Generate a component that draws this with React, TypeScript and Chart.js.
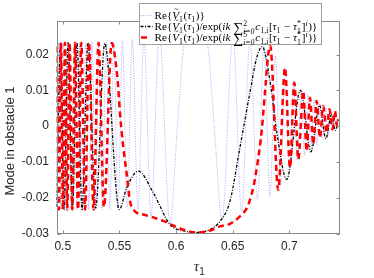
import React, { useEffect, useRef } from 'react';
import { Chart, registerables } from 'chart.js';

Chart.register(...registerables);

// Axis limits and tick values
const X_MIN = 0.4945;
const X_MAX = 0.7434;
const Y_MIN = -0.03;
const Y_MAX = 0.0295;
const xTicks = [0.5, 0.55, 0.6, 0.65, 0.7];
const yTicks = [-0.03, -0.02, -0.01, 0, 0.01, 0.02];

const xLabel = 'τ';
const yLabel = 'Mode in obstacle 1';

// Series 1: Re{V1(tau1)} (light blue dotted)
const blueX = [
  0.4945, 0.4962, 0.4984, 0.5006, 0.5029, 0.5052, 0.5077, 0.5101, 0.5125, 0.515,
  0.5176, 0.5203, 0.523, 0.5259, 0.5288, 0.5318, 0.5349, 0.5382, 0.5416, 0.5451,
  0.5488, 0.5528, 0.5569, 0.5614, 0.5664, 0.5717, 0.5779, 0.5852, 0.5947, 0.6012,
  0.6072, 0.6176, 0.6277, 0.6337, 0.6406, 0.6503, 0.6578, 0.6653, 0.6719, 0.6776,
  0.6829, 0.6878, 0.6922, 0.6962, 0.7001, 0.7037, 0.7072, 0.7103, 0.7134, 0.7164,
  0.7191, 0.7217, 0.7244, 0.727, 0.7295, 0.7319, 0.7341, 0.7363, 0.7385, 0.7405,
  0.7425, 0.7434,
];
const blueY = [
  -0.022, 0.0233, -0.0233, 0.0234, -0.0233, 0.0234, -0.0233, 0.0234, -0.0233, 0.0234,
  -0.0233, 0.0234, -0.0233, 0.0234, -0.0233, 0.0234, -0.0233, 0.0235, -0.0232, 0.0236,
  -0.023, 0.0238, -0.0226, 0.0242, -0.0233, 0.0246, -0.0252, 0.026, -0.0272, 0.0,
  0.0228, 0.0285, 0.023, 0.0, -0.0262, 0.0255, -0.0239, 0.0242, -0.0205, 0.0225,
  -0.0196, 0.0196, -0.0165, 0.0166, -0.0125, 0.0127, -0.0096, 0.0103, -0.0082, 0.0088,
  -0.0066, 0.0075, -0.0052, 0.0063, -0.0038, 0.0054, -0.0025, 0.0047, -0.0013, 0.0042,
  -0.0003, 0.0015,
];

// Series 2: quadratic phase removed (black dash-dot)
const blackX = [
  0.4945, 0.4981, 0.5011, 0.5047, 0.5086, 0.5126, 0.517, 0.5223, 0.5291, 0.5371,
  0.5499, 0.5565, 0.5667, 0.5799, 0.5947, 0.6061, 0.6182, 0.63, 0.6388, 0.6476,
  0.6564, 0.6653, 0.6712, 0.6761, 0.6829, 0.6888, 0.6977, 0.7098, 0.7191, 0.7266,
  0.7323, 0.7372, 0.7407, 0.7434,
];
const blackY = [
  -0.0226, 0.0233, -0.0233, 0.0233, -0.0233, 0.0233, -0.0233, 0.0233, -0.0229, 0.0231,
  -0.0233, -0.0172, -0.0126, -0.0186, -0.0275, -0.0292, -0.0297, -0.0289, -0.0266, -0.021,
  -0.006, 0.0095, 0.0191, 0.0222, 0.0126, -0.0014, -0.0149, 0.01, -0.0072, 0.0058,
  -0.0035, 0.0032, -0.0012, 0.0018,
];

// Series 3: fifth-order phase removed (red dashed)
const redX = [
  0.4945, 0.4967, 0.4984, 0.5002, 0.502, 0.504, 0.5061, 0.5084, 0.5109, 0.5135,
  0.5164, 0.5197, 0.5232, 0.5272, 0.5316, 0.5364, 0.5432, 0.5484, 0.5506, 0.5535,
  0.5565, 0.5594, 0.5638, 0.5711, 0.5799, 0.5918, 0.6035, 0.6182, 0.63, 0.6388,
  0.6476, 0.6564, 0.6626, 0.6682, 0.6723, 0.6756, 0.6789, 0.6814, 0.6831, 0.6902,
  0.6962, 0.7006, 0.7044, 0.7079, 0.7123, 0.7153, 0.7182, 0.7211, 0.7241, 0.727,
  0.7299, 0.7329, 0.7354, 0.7381, 0.7403, 0.742, 0.7434,
];
const redY = [
  0.0222, -0.0233, 0.0233, -0.0233, 0.0233, -0.0233, 0.0233, -0.0233, 0.0233, -0.0233,
  0.0233, -0.0233, 0.0233, -0.0233, 0.0233, -0.0226, 0.0232, 0.013, 0.0033, -0.006,
  -0.0135, -0.021, -0.0238, -0.0247, -0.0255, -0.0269, -0.0286, -0.0297, -0.0292, -0.028,
  -0.0273, -0.0252, -0.0228, -0.0171, -0.0095, -0.0014, 0.011, 0.02, 0.0225, -0.0178,
  0.0163, -0.0116, 0.0121, -0.0093, 0.0098, -0.007, 0.0079, -0.0051, 0.007, -0.0032,
  0.0056, -0.0018, 0.0047, -0.0009, 0.0042, 0.0, 0.002,
];

const BLUE = 'rgba(120,120,255,0.65)';
const BLACK = '#000000';
const RED = '#ff0000';
const AXIS = '#8a8a8a';
const TEXT = '#262626';
const SERIF = '"Liberation Serif", "DejaVu Serif", serif';
const SANS = '"Liberation Sans", Arial, sans-serif';

type Seg = { t: string; f?: 'i'; k?: 'sub' | 'sup' | 'stack'; t2?: string; big?: boolean; tilde?: boolean };

const head: Seg[] = [
  { t: 'Re{' }, { t: 'V', f: 'i', tilde: true }, { t: '1', k: 'sub' }, { t: '(' }, { t: 'τ', f: 'i' }, { t: '1', k: 'sub' },
];
const tailFor = (n: string): Seg[] => [
  { t: ')/exp(' }, { t: 'ik', f: 'i' }, { t: ' ' }, { t: '∑', big: true }, { t: 'i=0', k: 'stack', t2: n },
  { t: 'c', f: 'i' }, { t: '1,i', k: 'sub' }, { t: '[' }, { t: 'τ', f: 'i' }, { t: '1', k: 'sub' },
  { t: ' − ' }, { t: 'τ', f: 'i' }, { t: '1', k: 'stack', t2: '*' }, { t: ']' }, { t: 'i', f: 'i', k: 'sup' }, { t: ')}' },
];
const legendRows: Seg[][] = [
  [...head, { t: ')}' }],
  [...head, ...tailFor('2')],
  [...head, ...tailFor('5')],
];

function drawMath(ctx: CanvasRenderingContext2D, x: number, y: number, segs: Seg[], size: number, draw: boolean) {
  let cx = x;
  const sm = size * 0.7;
  for (const s of segs) {
    if (s.k === 'stack') {
      ctx.font = `italic ${sm}px ${SERIF}`;
      const w1 = ctx.measureText(s.t).width;
      ctx.font = `${sm}px ${SERIF}`;
      const w2 = ctx.measureText(s.t2 || '').width;
      if (draw) {
        ctx.font = `${s.t === 'i=0' ? 'italic ' : ''}${sm}px ${SERIF}`;
        ctx.fillText(s.t, cx, y + size * 0.3);
        ctx.font = `${sm}px ${SERIF}`;
        ctx.fillText(s.t2 || '', cx, y - size * 0.38);
      }
      cx += Math.max(w1, w2) + size * 0.08;
    } else if (s.k === 'sub' || s.k === 'sup') {
      ctx.font = `${s.f === 'i' ? 'italic ' : ''}${sm}px ${SERIF}`;
      const w = ctx.measureText(s.t).width;
      if (draw) ctx.fillText(s.t, cx, y + (s.k === 'sub' ? size * 0.25 : -size * 0.4));
      cx += w + size * 0.05;
    } else {
      const fs = s.big ? size * 1.25 : size;
      ctx.font = `${s.f === 'i' ? 'italic ' : ''}${fs}px ${SERIF}`;
      const w = ctx.measureText(s.t).width;
      if (draw) {
        ctx.fillText(s.t, cx, y + (s.big ? size * 0.12 : 0));
        if (s.tilde) {
          ctx.font = `${size * 0.75}px ${SERIF}`;
          ctx.textAlign = 'center';
          ctx.fillText('~', cx + w * 0.6, y - size * 0.6);
          ctx.textAlign = 'left';
        }
      }
      cx += w;
    }
  }
  return cx - x;
}

const fmt = (v: number) => String(parseFloat(v.toFixed(3)));

const deco = {
  id: 'deco',
  afterDraw(chart: any) {
    const ctx: CanvasRenderingContext2D = chart.ctx;
    const a = chart.chartArea;
    const xs = chart.scales.x;
    const ys = chart.scales.y;
    const L = Math.round(a.left) + 0.5;
    const R = Math.round(a.right) + 0.5;
    const T = Math.round(a.top) + 0.5;
    const B = Math.round(a.bottom) - 0.5;
    ctx.save();
    // axes box
    ctx.strokeStyle = AXIS;
    ctx.lineWidth = 1;
    ctx.setLineDash([]);
    ctx.strokeRect(L, T, R - L, B - T);
    // inward ticks
    ctx.beginPath();
    for (const v of xTicks) {
      const p = Math.round(xs.getPixelForValue(v)) + 0.5;
      ctx.moveTo(p, B); ctx.lineTo(p, B - 3);
      ctx.moveTo(p, T); ctx.lineTo(p, T + 3);
    }
    for (const v of yTicks) {
      const p = Math.round(ys.getPixelForValue(v)) + 0.5;
      ctx.moveTo(L, p); ctx.lineTo(L + 3, p);
      ctx.moveTo(R, p); ctx.lineTo(R - 3, p);
    }
    ctx.stroke();

    // y axis title
    ctx.fillStyle = TEXT;
    ctx.save();
    ctx.translate(10, 141);
    ctx.rotate(-Math.PI / 2);
    ctx.font = `13px ${SANS}`;
    ctx.textAlign = 'center';
    ctx.textBaseline = 'middle';
    ctx.fillText(yLabel, 0, 0);
    ctx.restore();

    // x axis title tau_1
    ctx.textBaseline = 'alphabetic';
    ctx.textAlign = 'left';
    ctx.font = `italic 15px ${SERIF}`;
    const tw = ctx.measureText(xLabel).width;
    const cx = (a.left + a.right) / 2 - 1;
    ctx.fillText(xLabel, cx - tw / 2, 271);
    ctx.font = `10px ${SANS}`;
    ctx.fillText('1', cx + tw / 2, 275);

    // legend box
    const lx = 139.5, ly = 3.5, lw = 182, lh = 41;
    ctx.fillStyle = '#ffffff';
    ctx.fillRect(lx, ly, lw, lh);
    ctx.strokeStyle = '#a0a0a0';
    ctx.strokeRect(lx, ly, lw, lh);

    const rowsY = [15.5, 26.5, 37.5];
    // sample lines
    ctx.lineWidth = 1;
    ctx.strokeStyle = BLUE;
    ctx.setLineDash([1, 1.5]);
    ctx.beginPath(); ctx.moveTo(140.5, rowsY[0]); ctx.lineTo(152.5, rowsY[0]); ctx.stroke();
    ctx.strokeStyle = BLACK;
    ctx.lineWidth = 1.3;
    ctx.setLineDash([3, 1.5, 1, 1.5]);
    ctx.beginPath(); ctx.moveTo(140.5, rowsY[1]); ctx.lineTo(152.5, rowsY[1]); ctx.stroke();
    ctx.strokeStyle = RED;
    ctx.lineWidth = 2.5;
    ctx.setLineDash([]);
    ctx.beginPath(); ctx.moveTo(141, rowsY[2]); ctx.lineTo(147, rowsY[2]); ctx.stroke();

    // legend texts
    ctx.fillStyle = '#000000';
    ctx.textAlign = 'left';
    ctx.textBaseline = 'alphabetic';
    const w10 = drawMath(ctx, 0, 0, legendRows[1], 10, false);
    const size = (10 * 163) / w10;
    legendRows.forEach((segs, i) => {
      drawMath(ctx, 154.5, rowsY[i] + size * 0.33, segs, size, true);
    });
    ctx.restore();
  },
};

export default function App() {
  const ref = useRef<HTMLCanvasElement>(null);
  useEffect(() => {
    const canvas = ref.current;
    if (!canvas) return;
    const pts = (xs: number[], ys: number[]) => xs.map((x, i) => ({ x, y: ys[i] }));
    const common = {
      pointRadius: 0,
      pointHoverRadius: 0,
      pointHitRadius: 0,
      fill: false,
      cubicInterpolationMode: 'monotone' as const,
      clip: 0,
    };
    const chart = new Chart(canvas, {
      type: 'line',
      data: {
        datasets: [
          { label: 'Re{V1/exp(ik sum5)}', data: pts(redX, redY), borderColor: RED, borderWidth: 2.5, borderDash: [6, 4], order: 1, ...common },
          { label: 'Re{V1/exp(ik sum2)}', data: pts(blackX, blackY), borderColor: BLACK, borderWidth: 1.3, borderDash: [3, 1.5, 1, 1.5], order: 2, ...common },
          { label: 'Re{V1}', data: pts(blueX, blueY), borderColor: BLUE, borderWidth: 1, borderDash: [1, 1.5], order: 3, ...common },
        ],
      },
      options: {
        responsive: false,
        animation: false,
        devicePixelRatio: 1,
        events: [],
        layout: { padding: { left: 0, top: 20.5, right: 35.5, bottom: 0 } },
        plugins: { legend: { display: false }, tooltip: { enabled: false }, title: { display: false } },
        scales: {
          x: {
            type: 'linear',
            min: X_MIN,
            max: X_MAX,
            grid: { display: false, drawTicks: false },
            border: { display: false },
            afterBuildTicks: (s: any) => { s.ticks = xTicks.map((v) => ({ value: v })); },
            afterFit: (s: any) => { s.height = 44.5; },
            ticks: {
              padding: 6,
              color: TEXT,
              font: { family: SANS, size: 12 },
              maxRotation: 0,
              autoSkip: false,
              callback: (v: any) => fmt(Number(v)),
            },
          },
          y: {
            type: 'linear',
            min: Y_MIN,
            max: Y_MAX,
            grid: { display: false, drawTicks: false },
            border: { display: false },
            afterBuildTicks: (s: any) => { s.ticks = yTicks.map((v) => ({ value: v })); },
            afterFit: (s: any) => { s.width = 56.5; },
            ticks: {
              padding: 7.5,
              color: TEXT,
              font: { family: SANS, size: 12 },
              autoSkip: false,
              callback: (v: any) => fmt(Number(v)),
            },
          },
        },
      },
      plugins: [deco],
    });
    return () => chart.destroy();
  }, []);
  return (
    <div style={{ position: 'absolute', left: 0, top: 0, width: 374, height: 278, background: '#ffffff' }}>
      <canvas ref={ref} width={374} height={278} style={{ display: 'block' }} />
    </div>
  );
}
